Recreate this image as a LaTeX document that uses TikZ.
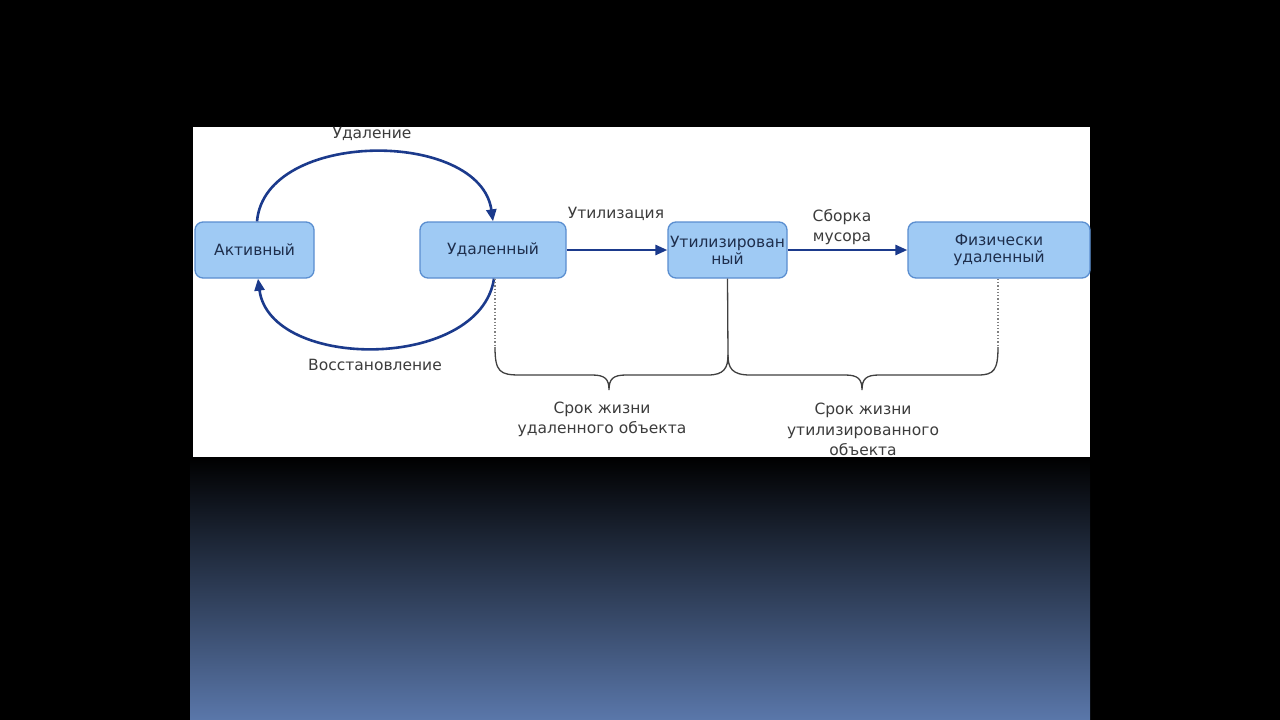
\documentclass[tikz,border=0pt]{standalone}
\usepackage{fontspec}
\setmainfont{DejaVu Sans}
\usetikzlibrary{arrows.meta}
\definecolor{boxfill}{HTML}{9FCAF4}
\definecolor{boxdraw}{HTML}{5A8ED0}
\definecolor{boxtext}{HTML}{1E2E4C}
\definecolor{arrowblue}{HTML}{1B3A8C}
\definecolor{labeltext}{HTML}{3C3C3C}
\definecolor{bracecol}{HTML}{404040}
\definecolor{grbottom}{HTML}{5A77AA}
\tikzset{
  statebox/.style={draw=boxdraw, fill=boxfill, line width=1.3pt, rounded corners=8pt,
    text=boxtext, align=center, inner sep=0pt,
    font=\fontsize{15.5}{17}\selectfont},
  flow/.style={draw=arrowblue, line width=2.6pt, -{Triangle[length=12pt,width=10pt]}},
  lbl/.style={text=labeltext, align=center, inner sep=0pt, font=\fontsize{15.5}{20.5}\selectfont},
  bracel/.style={draw=bracecol, line width=1.3pt},
  dotl/.style={draw=gray, line width=1.3pt, dotted},
}
\begin{document}
\begin{tikzpicture}[x=1pt,y=-1pt]
\useasboundingbox (0,0) rectangle (1280,720);
\fill[black] (0,0) rectangle (1280,720);
\fill[white] (193,127) rectangle (1090,457);
\shade[top color=black, bottom color=grbottom, middle color=grbottom!50!black] (190,457) rectangle (1090,720);

\node[statebox, minimum width=119pt, minimum height=56pt] (act) at (254.5,250) {Активный};
\node[statebox, minimum width=146pt, minimum height=56pt] (del) at (493,250) {Удаленный};
\node[statebox, minimum width=119pt, minimum height=56pt] (util) at (727.5,250) {Утилизирован\\ный};
\node[statebox, minimum width=182pt, minimum height=56pt] (phys) at (999,250) {Физически\\удаленный};

\draw[flow] ([xshift=2.5pt]act.north) .. controls (265,129) and (480,129) .. (del.north);
\draw[flow] ([xshift=1pt]del.south) .. controls (480,371) and (270,371) .. ([xshift=3.5pt]act.south);
\draw[flow] (del.east) -- (util.west);
\draw[flow] (util.east) -- (phys.west);

\node[lbl] (l1) at (372,134) {Удаление};
\node[lbl] (l2) at (375,365) {Восстановление};
\node[lbl] (l3) at (616,214) {Утилизация};
\node[lbl] (l4) at (842,227) {Сборка\\мусора};

\coordinate (b1) at (495,347);
\coordinate (b2) at (998,347);
\coordinate (bm) at (728,355);
\draw[dotl] ([xshift=2pt]del.south) -- (b1);
\draw[dotl] ([xshift=-1pt]phys.south) -- (b2);
\draw[bracel] (util.south) -- (bm);
\draw[bracel] (b1) .. controls (495,372) and (500,375) .. (520,375) -- (592,375)
  .. controls (605,375) and (609,379) .. (609,390)
  .. controls (609,379) and (613,375) .. (626,375) -- (708,375)
  .. controls (724,375) and (728,368) .. (bm);
\draw[bracel] (bm) .. controls (728,368) and (732,375) .. (750,375) -- (845,375)
  .. controls (858,375) and (862,379) .. (862,390)
  .. controls (862,379) and (866,375) .. (879,375) -- (978,375)
  .. controls (994,375) and (998,370) .. (b2);

\node[lbl] (l5) at (602,419.5) {Срок жизни\\удаленного объекта};
\node[lbl] (l6) at (863,429.5) {Срок жизни\\утилизированного\\объекта};
\end{tikzpicture}
\end{document}
